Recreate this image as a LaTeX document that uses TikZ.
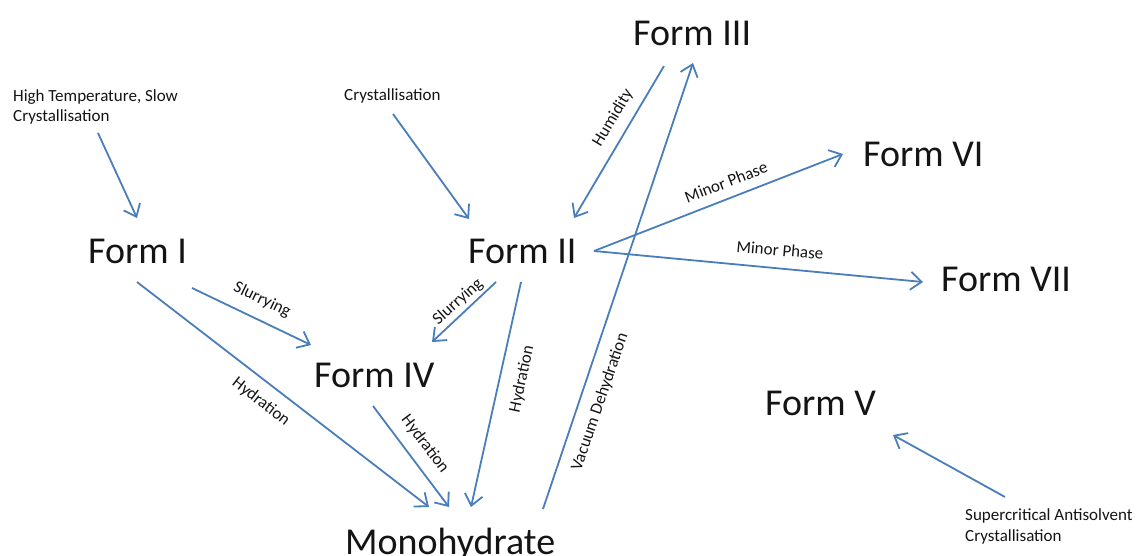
\documentclass[tikz,border=0pt]{standalone}
\usepackage{fontspec}
\setmainfont{Carlito}
\usetikzlibrary{arrows.meta,calc}
\definecolor{lineblue}{RGB}{74,126,187}
\definecolor{txt}{RGB}{20,20,20}
\tikzset{
  formnode/.style={inner sep=0pt, anchor=base west, text=txt, font=\fontsize{38}{46}\selectfont},
  srcnode/.style={inner sep=0pt, anchor=base west, text=txt, align=left, font=\fontsize{17}{20.5}\selectfont},
  lbl/.style={inner sep=0pt, text=txt, font=\fontsize{17}{20}\selectfont},
  conn/.style={draw=lineblue, line width=1.8pt, -{Straight Barb[length=11pt,width=18pt]}}
}
\begin{document}
\begin{tikzpicture}[x=1pt,y=-1pt]
\useasboundingbox (0,0) rectangle (1138,556);
% source texts (base anchor = baseline of last line)
\node[srcnode] (src1) at (13,122) {High Temperature, Slow\\Crystallisation};
\node[srcnode] (src2) at (344,101) {Crystallisation};
\node[srcnode] (src3) at (965,541) {Supercritical Antisolvent\\Crystallisation};
% forms
\node[formnode] (f1) at (88,263) {Form I};
\node[formnode] (f2) at (468,264) {Form II};
\node[formnode] (f3) at (633,46) {Form III};
\node[formnode] (f4) at (314,387) {Form IV};
\node[formnode] (f5) at (765,415) {Form V};
\node[formnode] (f6) at (863,167) {Form VI};
\node[formnode] (f7) at (941,291) {Form VII};
\node[formnode] (mono) at (345,554) {Monohydrate};
% connectors
\draw[conn] ($(src1.base west)+(85,11)$) -- ($(f1.base west)+(49,-45)$);
\draw[conn] ($(src2.base west)+(49,13)$) -- ($(f2.base west)+(1,-45)$);
\draw[conn] ($(f3.base west)+(31,20)$) -- ($(f2.base west)+(106,-46)$);
\draw[conn] ($(mono.base west)+(198,-45)$) -- ($(f3.base west)+(60,17)$);
\draw[conn] ($(f2.base west)+(126,-13)$) -- ($(f6.base west)+(-20,-13)$);
\draw[conn] ($(f2.base west)+(126,-13)$) -- ($(f7.base west)+(-18,-9)$);
\draw[conn] ($(f1.base west)+(104,25)$) -- ($(f4.base west)+(-3,-42)$);
\draw[conn] ($(f2.base west)+(28,18)$) -- ($(f4.base west)+(118,-45)$);
\draw[conn] ($(f2.base west)+(53,18)$) -- ($(mono.base west)+(126,-47)$);
\draw[conn] ($(f1.base west)+(49,19)$) -- ($(mono.base west)+(84,-47)$);
\draw[conn] ($(f4.base west)+(59,19)$) -- ($(mono.base west)+(104,-47)$);
\draw[conn] ($(src3.base west)+(40,-44)$) -- ($(f5.base west)+(128,20)$);
% labels
\node[lbl, rotate=59] (lhum) at (613,118) {Humidity};
\node[lbl, rotate=21] (lmp1) at (726,182) {Minor Phase};
\node[lbl, rotate=-5] (lmp2) at (780,250) {Minor Phase};
\node[lbl, rotate=-26] (lsl1) at (262,300) {Slurrying};
\node[lbl, rotate=42] (lsl2) at (458,302) {Slurrying};
\node[lbl, rotate=-38] (lhy1) at (261,402) {Hydration};
\node[lbl, rotate=-53] (lhy2) at (425,444) {Hydration};
\node[lbl, rotate=78] (lhy3) at (522,379) {Hydration};
\node[lbl, rotate=71] (lvac) at (600,402) {Vacuum Dehydration};
\end{tikzpicture}
\end{document}
